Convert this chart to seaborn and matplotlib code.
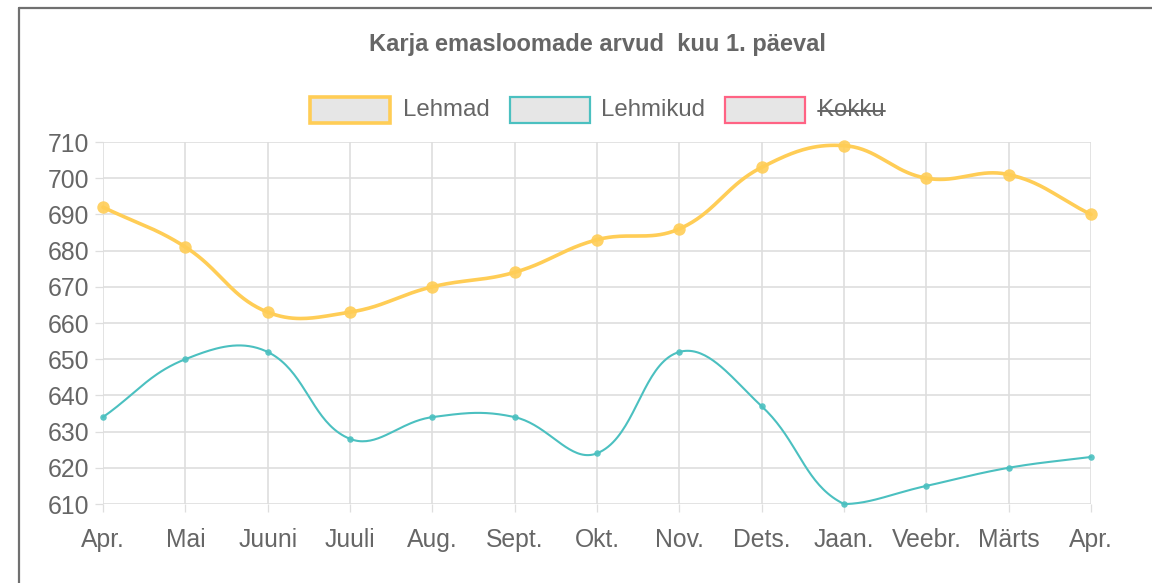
import numpy as np
import pandas as pd
import matplotlib.pyplot as plt
import seaborn as sns
from matplotlib.lines import Line2D
from matplotlib.patches import Rectangle

months = ["Apr.", "Mai", "Juuni", "Juuli", "Aug.", "Sept.", "Okt.", "Nov.",
          "Dets.", "Jaan.", "Veebr.", "Märts", "Apr."]
lehmad = [692, 681, 663, 663, 670, 674, 683, 686, 703, 709, 700, 701, 690]
lehmikud = [634, 650, 652, 628, 634, 634, 624, 652, 637, 610, 615, 620, 623]
series_names = ["Lehmad", "Lehmikud", "Kokku"]
series_colors = ["#ffcd56", "#4bc0c0", "#ff6384"]
y_ticks = [610, 620, 630, 640, 650, 660, 670, 680, 690, 700, 710]

TEXT = "#666666"
GRID = "#dedede"

sns.set_theme(style="white")
plt.rcParams["font.family"] = ["Liberation Sans", "DejaVu Sans"]

W, H = 1152, 583
fig = plt.figure(figsize=(W / 100, H / 100), dpi=100)
left, right, top, bottom = 103, 1091, 142, 504
ax = fig.add_axes([left / W, 1 - bottom / H, (right - left) / W, (bottom - top) / H])
ax.set_xlim(0, len(months) - 1)
ax.set_ylim(y_ticks[0], y_ticks[-1])


def spline(xs, ys, tension=0.4):
    # chart.js style bezier through the points, worked out in pixel space
    pts = ax.transData.transform(np.column_stack([xs, ys]))
    n = len(pts)
    prev_cp, next_cp = [], []
    for i in range(n):
        p0 = pts[max(i - 1, 0)]
        p1 = pts[i]
        p2 = pts[min(i + 1, n - 1)]
        d01 = np.hypot(*(p1 - p0))
        d12 = np.hypot(*(p2 - p1))
        tot = d01 + d12
        s01 = d01 / tot if tot else 0
        s12 = d12 / tot if tot else 0
        fa, fb = tension * s01, tension * s12
        prev_cp.append(p1 - fa * (p2 - p0))
        next_cp.append(p1 + fb * (p2 - p0))
    lo = ax.transData.transform((xs[0], y_ticks[0]))
    hi = ax.transData.transform((xs[-1], y_ticks[-1]))
    clamp = lambda p: np.clip(p, np.minimum(lo, hi), np.maximum(lo, hi))
    t = np.linspace(0, 1, 40)[:, None]
    out = []
    for i in range(n - 1):
        a, b = pts[i], clamp(next_cp[i])
        c, d = clamp(prev_cp[i + 1]), pts[i + 1]
        seg = ((1 - t) ** 3) * a + 3 * ((1 - t) ** 2) * t * b + 3 * (1 - t) * t ** 2 * c + t ** 3 * d
        out.append(seg if i == 0 else seg[1:])
    out = ax.transData.inverted().transform(np.vstack(out))
    return out[:, 0], out[:, 1]


x_idx = np.arange(len(months))

for ys, col, lw, size in [(lehmikud, series_colors[1], 1.5, 22), (lehmad, series_colors[0], 2.6, 80)]:
    cx, cy = spline(x_idx, ys)
    curve = pd.DataFrame({"x": cx, "y": cy})
    sns.lineplot(data=curve, x="x", y="y", sort=False, estimator=None, color=col,
                 linewidth=lw, ax=ax, clip_on=False)
    pts = pd.DataFrame({"x": x_idx, "y": ys})
    sns.scatterplot(data=pts, x="x", y="y", color=col, s=size,
                    edgecolor=col, linewidth=0, ax=ax, clip_on=False, zorder=5, alpha=0.9)

ax.set_xticks(x_idx)
ax.set_xticklabels(months)
ax.set_yticks(y_ticks)
ax.set_xlabel("")
ax.set_ylabel("")
ax.grid(True, color=GRID, linewidth=1.2)
for s in ax.spines.values():
    s.set_visible(False)
ax.tick_params(axis="both", length=6, width=0.9, color=GRID, labelcolor=TEXT,
               labelsize=17.8, direction="out", left=True, bottom=True)
ax.tick_params(axis="x", pad=11)
ax.tick_params(axis="y", pad=4)

fig.text((left + right) / 2 / W, 1 - 44 / H, "Karja emasloomade arvud  kuu 1. päeval",
         ha="center", va="center", fontsize=17, fontweight="bold", color=TEXT)

# legend drawn by hand (Kokku is hidden, so struck through)
boxes = [(310, 403), (510, 601), (725, 818)]
for (bx, tx), name, col in zip(boxes, series_names, series_colors):
    lw = 2.6 if name == "Lehmad" else 1.6
    fig.add_artist(Rectangle((bx / W, 1 - 123 / H), 80 / W, 26 / H, transform=fig.transFigure,
                             facecolor="#e6e6e6", edgecolor=col, linewidth=lw))
    t = fig.text(tx / W, 1 - 110 / H, name, ha="left", va="center", fontsize=17.3, color=TEXT)
    if name == "Kokku":
        fig.add_artist(Line2D([tx / W, (tx + 67) / W], [1 - 111 / H] * 2,
                              transform=fig.transFigure, color=TEXT, linewidth=1.4))

# frame of the page around the chart
fig.add_artist(Line2D([18.5 / W, 18.5 / W], [0, 1 - 8 / H], transform=fig.transFigure,
                      color="#707070", linewidth=1.6))
fig.add_artist(Line2D([18.5 / W, 1], [1 - 8 / H, 1 - 8 / H], transform=fig.transFigure,
                      color="#707070", linewidth=1.6))

fig.savefig("out.png", dpi=100, facecolor="white")
